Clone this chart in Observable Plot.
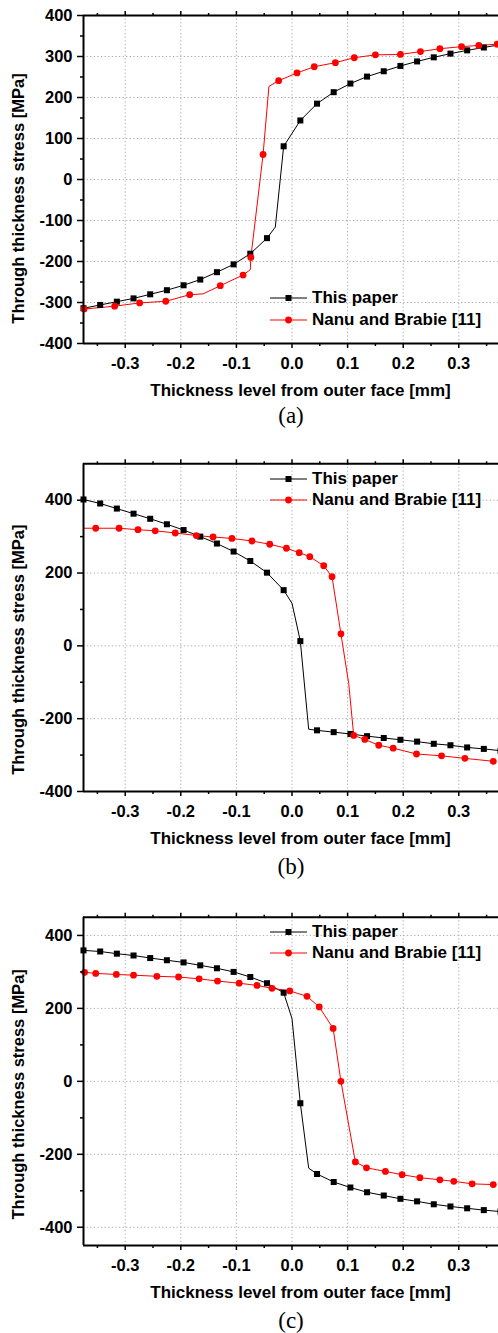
<!DOCTYPE html>
<html>
<head>
<meta charset="utf-8">
<script src="https://cdn.jsdelivr.net/npm/d3@7"></script>
<script src="https://cdn.jsdelivr.net/npm/@observablehq/plot@0.6"></script>
<style>
  html, body { margin: 0; padding: 0; background: #fff; }
  #root { position: relative; width: 498px; height: 1333px; overflow: hidden; background: #fff; }
  .caption { position: absolute; width: 120px; text-align: center; font-family: "Liberation Serif", "Times New Roman", serif; font-size: 23px; line-height: 24px; color: #000; }
  .legend { position: absolute; left: 270px; font-family: "Liberation Sans", Arial, sans-serif; font-weight: bold; font-size: 17px; color: #000; }
  .legend .row { display: flex; align-items: center; height: 21.5px; white-space: nowrap; }
  .legend svg { display: block; margin-right: 5px; }
</style>
</head>
<body>
<div id="root"></div>
<script>
// ---------- shared labels and ticks ----------
const X_LABEL = "Thickness level from outer face [mm]";
const Y_LABEL = "Through thickness stress [MPa]";
const SERIES_NAMES = ["This paper", "Nanu and Brabie [11]"];
const PANEL_CAPTIONS = ["(a)", "(b)", "(c)"];
const X_DOMAIN = [-0.375, 0.375];
const X_TICKS = [-0.3, -0.2, -0.1, 0, 0.1, 0.2, 0.3];
const X_MINOR = [-0.35, -0.25, -0.15, -0.05, 0.05, 0.15, 0.25, 0.35];

// ---------- panel (a) ----------
const A_Y_DOMAIN = [-400, 400];
const A_Y_TICKS = [-400, -300, -200, -100, 0, 100, 200, 300, 400];
const A_Y_MINOR = [-350, -250, -150, -50, 50, 150, 250, 350];
const A_paper_x = [-0.375, -0.345, -0.315, -0.285, -0.255, -0.225, -0.195, -0.165, -0.135, -0.105, -0.075, -0.045, -0.03, -0.015, 0.015, 0.045, 0.075, 0.105, 0.135, 0.165, 0.195, 0.225, 0.255, 0.285, 0.315, 0.345, 0.375];
const A_paper_y = [-314, -306, -298, -290, -280, -270, -258, -244, -226, -207, -181, -143, -116, 81, 144, 185, 213, 234, 251, 264, 277, 288, 298, 307, 315, 322, 329];
const A_paper_marker = [1,1,1,1,1,1,1,1,1,1,1,1,0,1,1,1,1,1,1,1,1,1,1,1,1,1,1];
const A_nanu_x = [-0.374, -0.319, -0.274, -0.227, -0.184, -0.160, -0.129, -0.088, -0.075, -0.074, -0.052, -0.0415, -0.024, 0.009, 0.040, 0.078, 0.112, 0.150, 0.195, 0.231, 0.266, 0.305, 0.336, 0.369];
const A_nanu_y = [-316, -309, -301, -297, -281, -279, -259, -233, -220, -190, 61, 227, 241, 260, 275, 285, 297, 304, 305, 312, 319, 324, 327, 330];
const A_nanu_marker = [1,1,1,1,1,0,1,1,0,1,1,0,1,1,1,1,1,1,1,1,1,1,1,1];

// ---------- panel (b) ----------
const B_Y_DOMAIN = [-400, 500];
const B_Y_TICKS = [-400, -200, 0, 200, 400];
const B_Y_MINOR = [-300, -100, 100, 300];
const B_paper_x = [-0.375, -0.345, -0.315, -0.285, -0.255, -0.225, -0.195, -0.165, -0.135, -0.105, -0.075, -0.045, -0.015, 0.0, 0.015, 0.03, 0.045, 0.075, 0.105, 0.135, 0.165, 0.195, 0.225, 0.255, 0.285, 0.315, 0.345, 0.375];
const B_paper_y = [402, 391, 377, 363, 349, 334, 318, 300, 281, 259, 233, 201, 153, 117, 13, -229, -232, -237, -242, -248, -253, -258, -263, -269, -273, -279, -283, -288];
const B_paper_marker = [1,1,1,1,1,1,1,1,1,1,1,1,1,0,1,0,1,1,1,1,1,1,1,1,1,1,1,1];
const B_nanu_x = [-0.375, -0.353, -0.311, -0.277, -0.246, -0.210, -0.172, -0.142, -0.108, -0.072, -0.040, -0.010, 0.013, 0.032, 0.057, 0.072, 0.088, 0.102, 0.111, 0.131, 0.156, 0.182, 0.224, 0.269, 0.311, 0.362];
const B_nanu_y = [323, 323, 323, 319, 316, 310, 303, 299, 295, 288, 279, 268, 256, 245, 220, 190, 33, -103, -246, -257, -273, -281, -297, -302, -309, -317];
const B_nanu_marker = [0,1,1,1,1,1,1,1,1,1,1,1,1,1,1,1,1,0,1,1,1,1,1,1,1,1];

// ---------- panel (c) ----------
const C_Y_DOMAIN = [-450, 450];
const C_Y_TICKS = [-400, -200, 0, 200, 400];
const C_Y_MINOR = [-300, -100, 100, 300];
const C_paper_x = [-0.375, -0.345, -0.315, -0.285, -0.255, -0.225, -0.195, -0.165, -0.135, -0.105, -0.075, -0.045, -0.015, 0.0, 0.015, 0.03, 0.045, 0.075, 0.105, 0.135, 0.165, 0.195, 0.225, 0.255, 0.285, 0.315, 0.345, 0.375];
const C_paper_y = [359, 356, 350, 345, 338, 332, 326, 318, 310, 300, 286, 269, 243, 172, -60, -238, -254, -276, -291, -304, -313, -322, -329, -337, -343, -348, -353, -357];
const C_paper_marker = [1,1,1,1,1,1,1,1,1,1,1,1,1,0,1,0,1,1,1,1,1,1,1,1,1,1,1,1];
const C_nanu_x = [-0.373, -0.353, -0.316, -0.285, -0.243, -0.204, -0.167, -0.134, -0.095, -0.063, -0.036, -0.004, 0.027, 0.049, 0.074, 0.088, 0.114, 0.134, 0.168, 0.198, 0.230, 0.266, 0.291, 0.324, 0.362];
const C_nanu_y = [299, 296, 293, 291, 288, 286, 281, 275, 269, 263, 255, 248, 233, 204, 145, 0, -221, -237, -247, -256, -264, -270, -274, -281, -283];
const C_nanu_marker = [1,1,1,1,1,1,1,1,1,1,1,1,1,1,1,1,1,1,1,1,1,1,1,1,1];

// ---------- layout (pixel geometry of each panel) ----------
const root = document.getElementById("root");
const FONT = "'Liberation Sans', Arial, Helvetica, sans-serif";

function rows(xs, ys, ms) { return xs.map((x, i) => ({x, y: ys[i], m: ms[i]})); }

function panel(cfg) {
  const paper = rows(cfg.px, cfg.py, cfg.pm);
  const nanu = rows(cfg.nx, cfg.ny, cfg.nm);
  const H = cfg.height;
  const svg = Plot.plot({
    width: 498,
    height: H,
    marginLeft: 83,
    marginRight: 0,
    marginTop: cfg.frameTop,
    marginBottom: H - cfg.frameBottom,
    x: {domain: X_DOMAIN, range: [83, 500]},
    y: {domain: cfg.yDomain},
    style: {fontFamily: FONT, fontWeight: "bold", fontSize: "16.5px", background: "transparent", color: "#000"},
    marks: [
      Plot.gridX(X_TICKS, {stroke: "#a8a8a8", strokeOpacity: 1, strokeDasharray: "1.2,2.4"}),
      Plot.gridY(cfg.yTicks, {stroke: "#a8a8a8", strokeOpacity: 1, strokeDasharray: "1.2,2.4"}),
      Plot.line(paper, {x: "x", y: "y", stroke: "black", strokeWidth: 1}),
      Plot.line(nanu, {x: "x", y: "y", stroke: "red", strokeWidth: 1}),
      Plot.dot(paper.filter(d => d.m), {x: "x", y: "y", symbol: "square", r: 3.4, fill: "black"}),
      Plot.dot(nanu.filter(d => d.m), {x: "x", y: "y", symbol: "circle", r: 3.4, fill: "red"}),
      Plot.ruleX([X_DOMAIN[0]], {stroke: "black", strokeWidth: 2}),
      Plot.ruleY(cfg.yDomain, {stroke: "black", strokeWidth: 2}),
      Plot.axisX(X_TICKS, {anchor: "bottom", tickSize: 5, tickPadding: 9, strokeWidth: 1.5, tickFormat: d => d.toFixed(1), label: null}),
      Plot.axisX(X_MINOR, {anchor: "bottom", tickSize: 3, strokeWidth: 1.5, tickFormat: () => "", label: null}),
      Plot.axisX(X_TICKS, {anchor: "top", tickSize: 5, strokeWidth: 1.5, tickFormat: () => "", label: null}),
      Plot.axisX(X_MINOR, {anchor: "top", tickSize: 3, strokeWidth: 1.5, tickFormat: () => "", label: null}),
      Plot.axisY(cfg.yTicks, {anchor: "left", tickSize: 6, tickPadding: 5, strokeWidth: 1.5, tickFormat: d => String(d), label: null}),
      Plot.axisY(cfg.yMinor, {anchor: "left", tickSize: 3, strokeWidth: 1.5, tickFormat: () => "", label: null}),
      Plot.text([X_LABEL], {text: d => d, frameAnchor: "bottom", textAnchor: "middle", lineAnchor: "middle", dx: 9.5, dy: 47, fontSize: 17}),
      Plot.text([Y_LABEL], {text: d => d, frameAnchor: "left", textAnchor: "middle", lineAnchor: "middle", rotate: -90, dx: -64.5, dy: cfg.yLabelDy, fontSize: 16.5})
    ]
  });
  svg.style.position = "absolute";
  svg.style.left = "0px";
  svg.style.top = cfg.top + "px";
  root.appendChild(svg);

  // legend
  const lg = document.createElement("div");
  lg.className = "legend";
  lg.style.top = (cfg.legendTop) + "px";
  [["black", "square"], ["red", "circle"]].forEach(([color, sym], i) => {
    const row = document.createElement("div");
    row.className = "row";
    const s = d3.create("svg").attr("width", 37).attr("height", 12);
    s.append("line").attr("x1", 0).attr("x2", 37).attr("y1", 6).attr("y2", 6).attr("stroke", color).attr("stroke-width", 1);
    if (sym === "square") s.append("rect").attr("x", 15.5).attr("y", 3).attr("width", 6).attr("height", 6).attr("fill", color);
    else s.append("circle").attr("cx", 18.5).attr("cy", 6).attr("r", 3.4).attr("fill", color);
    row.appendChild(s.node());
    const t = document.createElement("span");
    t.textContent = SERIES_NAMES[i];
    row.appendChild(t);
    lg.appendChild(row);
  });
  root.appendChild(lg);

  // caption
  const cap = document.createElement("div");
  cap.className = "caption";
  cap.textContent = cfg.caption;
  cap.style.left = (291 - 60) + "px";
  cap.style.top = (cfg.captionCenter - 12) + "px";
  root.appendChild(cap);
}

panel({
  px: A_paper_x, py: A_paper_y, pm: A_paper_marker,
  nx: A_nanu_x, ny: A_nanu_y, nm: A_nanu_marker,
  yDomain: A_Y_DOMAIN, yTicks: A_Y_TICKS, yMinor: A_Y_MINOR,
  top: 0, height: 400, frameTop: 15, frameBottom: 343, yLabelDy: 19,
  legendTop: 287.5, caption: PANEL_CAPTIONS[0], captionCenter: 416
});
panel({
  px: B_paper_x, py: B_paper_y, pm: B_paper_marker,
  nx: B_nanu_x, ny: B_nanu_y, nm: B_nanu_marker,
  yDomain: B_Y_DOMAIN, yTicks: B_Y_TICKS, yMinor: B_Y_MINOR,
  top: 440, height: 415, frameTop: 23.3, frameBottom: 351, yLabelDy: 22,
  legendTop: 468, caption: PANEL_CAPTIONS[1], captionCenter: 867
});
panel({
  px: C_paper_x, py: C_paper_y, pm: C_paper_marker,
  nx: C_nanu_x, ny: C_nanu_y, nm: C_nanu_marker,
  yDomain: C_Y_DOMAIN, yTicks: C_Y_TICKS, yMinor: C_Y_MINOR,
  top: 895, height: 410, frameTop: 21.7, frameBottom: 350, yLabelDy: 13,
  legendTop: 921, caption: PANEL_CAPTIONS[2], captionCenter: 1321
});
</script>
</body>
</html>
